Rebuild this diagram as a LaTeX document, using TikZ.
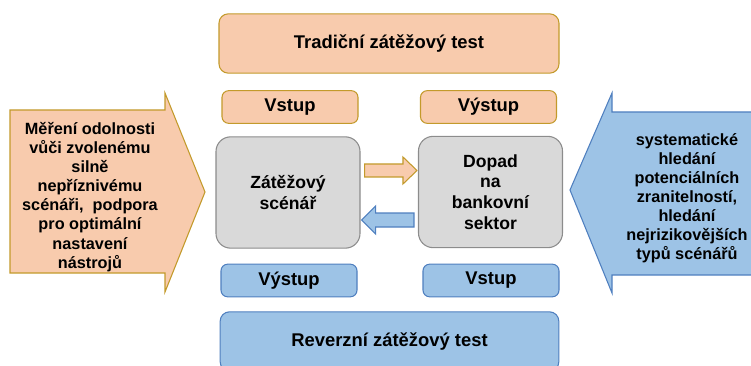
\documentclass[tikz,border=0pt]{standalone}
\usepackage{fontspec}
\setmainfont{Liberation Sans}
\usetikzlibrary{calc}
\definecolor{orangefill}{HTML}{F8CBAD}
\definecolor{orangeline}{HTML}{C39A2B}
\definecolor{bluefill}{HTML}{9DC3E6}
\definecolor{blueline}{HTML}{4F7FBF}
\definecolor{greyfill}{HTML}{D9D9D9}
\definecolor{greyline}{HTML}{8C8C8C}
\tikzstyle{txt} = [font=\bfseries\fontsize{13.8}{16}\selectfont, align=center, inner sep=0pt]
\tikzstyle{sidetxt} = [txt, font=\bfseries\fontsize{12.2}{14.3}\selectfont]
\tikzstyle{orangebox} = [txt, draw=orangeline, fill=orangefill, line width=0.8pt, rounded corners=7pt]
\tikzstyle{bluebox} = [txt, draw=blueline, fill=bluefill, line width=0.8pt, rounded corners=7pt]
\tikzstyle{greybox} = [txt, font=\bfseries\fontsize{13.2}{15.6}\selectfont, draw=greyline, fill=greyfill, line width=0.8pt, rounded corners=11pt, minimum width=108pt, minimum height=83.5pt]
\tikzstyle{smallbox} = [minimum width=102pt, minimum height=24.5pt, rounded corners=5pt]
\tikzstyle{orangearrow} = [draw=orangeline, fill=orangefill, line width=0.8pt]
\tikzstyle{bluearrow} = [draw=blueline, fill=bluefill, line width=0.8pt]

\begin{document}
\begin{tikzpicture}[x=0.75pt, y=0.75pt]
    \useasboundingbox (0,0) rectangle (751,365);
    \clip (0,0) rectangle (751,365);

    % side arrows
    \draw [orangearrow] (10,92) -- (165,92) -- (165,73) -- (205,173) -- (165,272) -- (165,255) -- (10,255) -- cycle;
    \node [sidetxt] (goal) at (90,168) {Měření odolnosti\\vůči zvolenému\\silně\\nepříznivému\\scénáři,~ podpora\\pro optimální\\nastavení\\nástrojů};
    \draw [bluearrow] (770,90) -- (612,90) -- (612,72) -- (570,175) -- (612,272) -- (612,253) -- (770,253) -- cycle;
    \node [sidetxt] (search) at (687,167) {systematické\\hledání\\potenciálních\\zranitelností,\\hledání\\nejrizikovějších\\typů scénářů};

    % traditional test
    \node [orangebox, minimum width=255pt, minimum height=44.5pt] (trad) at (389,321.5) {Tradiční zátěžový test};
    \node [orangebox, smallbox] (inT) at (290,258) {Vstup};
    \node [orangebox, smallbox] (outT) at (488.5,258) {Výstup};

    % scenario and impact
    \node [greybox] (scen) at (288,172.5) {Zátěžový\\scénář};
    \node [greybox] (dopad) at (490.5,173) {Dopad\\na\\bankovní\\sektor};

    \coordinate (o0) at ($(scen.east)+(4,22)$);
    \coordinate (o1) at ($(dopad.west)+(-1,21.5)$);
    \draw [orangearrow] ($(o0)+(0,6.5)$) -- ($(o1)+(-14,6.5)$) -- ($(o1)+(-14,13.5)$) -- (o1)
        -- ($(o1)+(-14,-13.5)$) -- ($(o1)+(-14,-6.5)$) -- ($(o0)+(0,-6.5)$) -- cycle;
    \coordinate (b0) at ($(dopad.west)+(-4,-28)$);
    \coordinate (b1) at ($(scen.east)+(1,-27.5)$);
    \draw [bluearrow] ($(b0)+(0,7)$) -- ($(b1)+(14,7)$) -- ($(b1)+(14,14)$) -- (b1)
        -- ($(b1)+(14,-14)$) -- ($(b1)+(14,-7)$) -- ($(b0)+(0,-7)$) -- cycle;

    % reverse test
    \node [bluebox, smallbox] (outB) at (289,84.5) {Výstup};
    \node [bluebox, smallbox] (inB) at (491,84.5) {Vstup};
    \node [bluebox, minimum width=254pt, minimum height=44.5pt] (rev) at (389.5,23.5) {Reverzní zátěžový test};
\end{tikzpicture}
\end{document}
